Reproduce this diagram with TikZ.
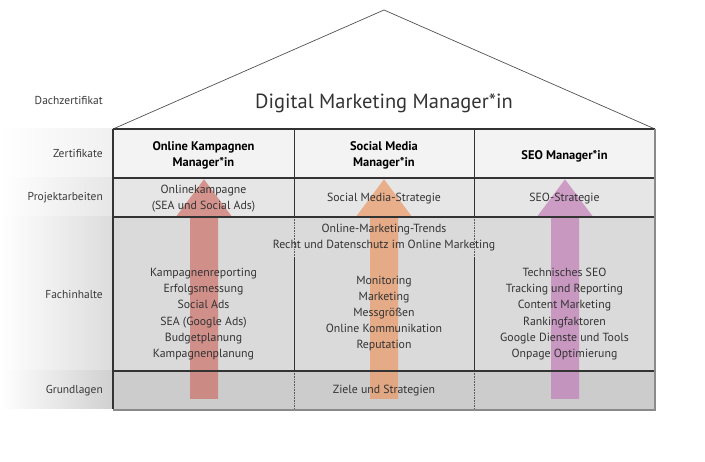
\documentclass[tikz,border=0pt]{standalone}
\usepackage{fontspec}
\setmainfont{PT Sans}
\definecolor{txt}{HTML}{333333}
\definecolor{lbltxt}{HTML}{3A3A3A}
\definecolor{rowA}{HTML}{F3F3F3}
\definecolor{rowB}{HTML}{E6E6E6}
\definecolor{rowC}{HTML}{DADADA}
\definecolor{rowD}{HTML}{CCCCCC}
\definecolor{bandA}{HTML}{F0F0F0}
\definecolor{bandB}{HTML}{E6E6E6}
\definecolor{bandC}{HTML}{DCDCDC}
\definecolor{bandD}{HTML}{D0D0D0}
\definecolor{arrRed}{RGB}{205,108,100}
\definecolor{arrOrange}{RGB}{235,148,95}
\definecolor{arrPurple}{RGB}{192,122,182}
\definecolor{lineDark}{HTML}{333333}
\definecolor{lineShadow}{HTML}{8A8A8A}
\newcommand\myUpArrow[2]{%
  \fill[#2,opacity=0.68] (#1-14,399) -- (#1-14,216.7) -- (#1-28,216.7) -- (#1,179.3)
    -- (#1+28,216.7) -- (#1+14,216.7) -- (#1+14,399) -- cycle;}
\begin{document}
\begin{tikzpicture}[x=1pt,y=-1pt,
  body/.style={font=\fontsize{11.8}{16.2}\selectfont, align=center, text=txt, inner sep=0pt},
  hdr/.style={font=\bfseries\fontsize{12.5}{16}\selectfont, align=center, text=black, inner sep=0pt},
  lbl/.style={font=\fontsize{11.5}{13}\selectfont, anchor=east, text=lbltxt, inner sep=0pt, text height=8pt, text depth=2.7pt},
  sep/.style={draw=lineDark, line width=1.1pt},
  dotsep/.style={draw=lineDark!80, line width=0.6pt, densely dotted},
  solidsep/.style={draw=lineDark, line width=0.9pt}]
\useasboundingbox (0,0) rectangle (705,462);
\fill[white] (0,0) rectangle (705,462);
% label bands
\shade[left color=white, right color=bandA] (0,129) rectangle (113,178);
\shade[left color=white, right color=bandB] (0,178) rectangle (113,217);
\shade[left color=white, right color=bandC] (0,217) rectangle (113,371);
\shade[left color=white, right color=bandD] (0,371) rectangle (113,409);
% roof
\coordinate (roofL) at (113,129);
\coordinate (roofR) at (655,129);
\coordinate (apex) at (384,10);
\filldraw[fill=white, draw=lineDark!85, line width=0.7pt] (roofL) -- (apex) -- (roofR);
% rows
\fill[rowA] (113,129) rectangle (655,178);
\fill[rowB] (113,178) rectangle (655,217);
\fill[rowC] (113,217) rectangle (655,371);
\fill[rowD] (113,371) rectangle (655,409);
% arrows
\myUpArrow{204}{arrRed}
\myUpArrow{384}{arrOrange}
\myUpArrow{565}{arrPurple}
% column dividers
\foreach \cx in {294,474.5}{
  \draw[solidsep] (\cx,129) -- (\cx,217);
  \draw[dotsep] (\cx,217) -- (\cx,257);
  \draw[solidsep] (\cx,257) -- (\cx,371);
  \draw[dotsep] (\cx,371) -- (\cx,409);
}
% row lines
\draw[sep] (113,129) -- (655,129);
\draw[sep] (113,178) -- (655,178);
\draw[sep] (113,217) -- (655,217);
\draw[sep] (113,371) -- (655,371);
\draw[sep] (113,129) -- (113,409.5);
\draw[draw=lineShadow, line width=2pt] (655,129) -- (655,410) -- (113,410);
% title
\node[font=\fontsize{20.5}{24}\selectfont, text=txt, inner sep=0pt] (title) at (384,103) {Digital Marketing Manager*in};
% left labels
\node[lbl] (l1) at (103,101.7) {Dachzertifikat};
\node[lbl] (l2) at (103,155) {Zertifikate};
\node[lbl] (l3) at (103,198.3) {Projektarbeiten};
\node[lbl] (l4) at (103,296) {Fachinhalte};
\node[lbl] (l5) at (103,391) {Grundlagen};
% headers
\node[hdr] (h1) at (203.5,155) {Online Kampagnen\\Manager*in};
\node[hdr] (h2) at (384,155) {Social Media\\Manager*in};
\node[hdr] (h3) at (564.5,156) {SEO Manager*in};
% project work
\node[body] (p1) at (203.5,198.5) {Onlinekampagne\\(SEA und Social Ads)};
\node[body] (p2) at (384,198.5) {Social Media-Strategie};
\node[body] (p3) at (564.5,198.5) {SEO-Strategie};
% content
\node[body, font=\fontsize{11.8}{15.2}\selectfont] (c0) at (384,237.5) {Online-Marketing-Trends\\Recht und Datenschutz im Online Marketing};
\node[body] (c1) at (203.5,314) {Kampagnenreporting\\Erfolgsmessung\\Social Ads\\SEA (Google Ads)\\Budgetplanung\\Kampagnenplanung};
\node[body] (c2) at (384,313.5) {Monitoring\\Marketing\\Messgrößen\\Online Kommunikation\\Reputation};
\node[body] (c3) at (564.5,314) {Technisches SEO\\Tracking und Reporting\\Content Marketing\\Rankingfaktoren\\Google Dienste und Tools\\Onpage Optimierung};
% basics
\node[body] (g1) at (384,390.5) {Ziele und Strategien};
\end{tikzpicture}
\end{document}
